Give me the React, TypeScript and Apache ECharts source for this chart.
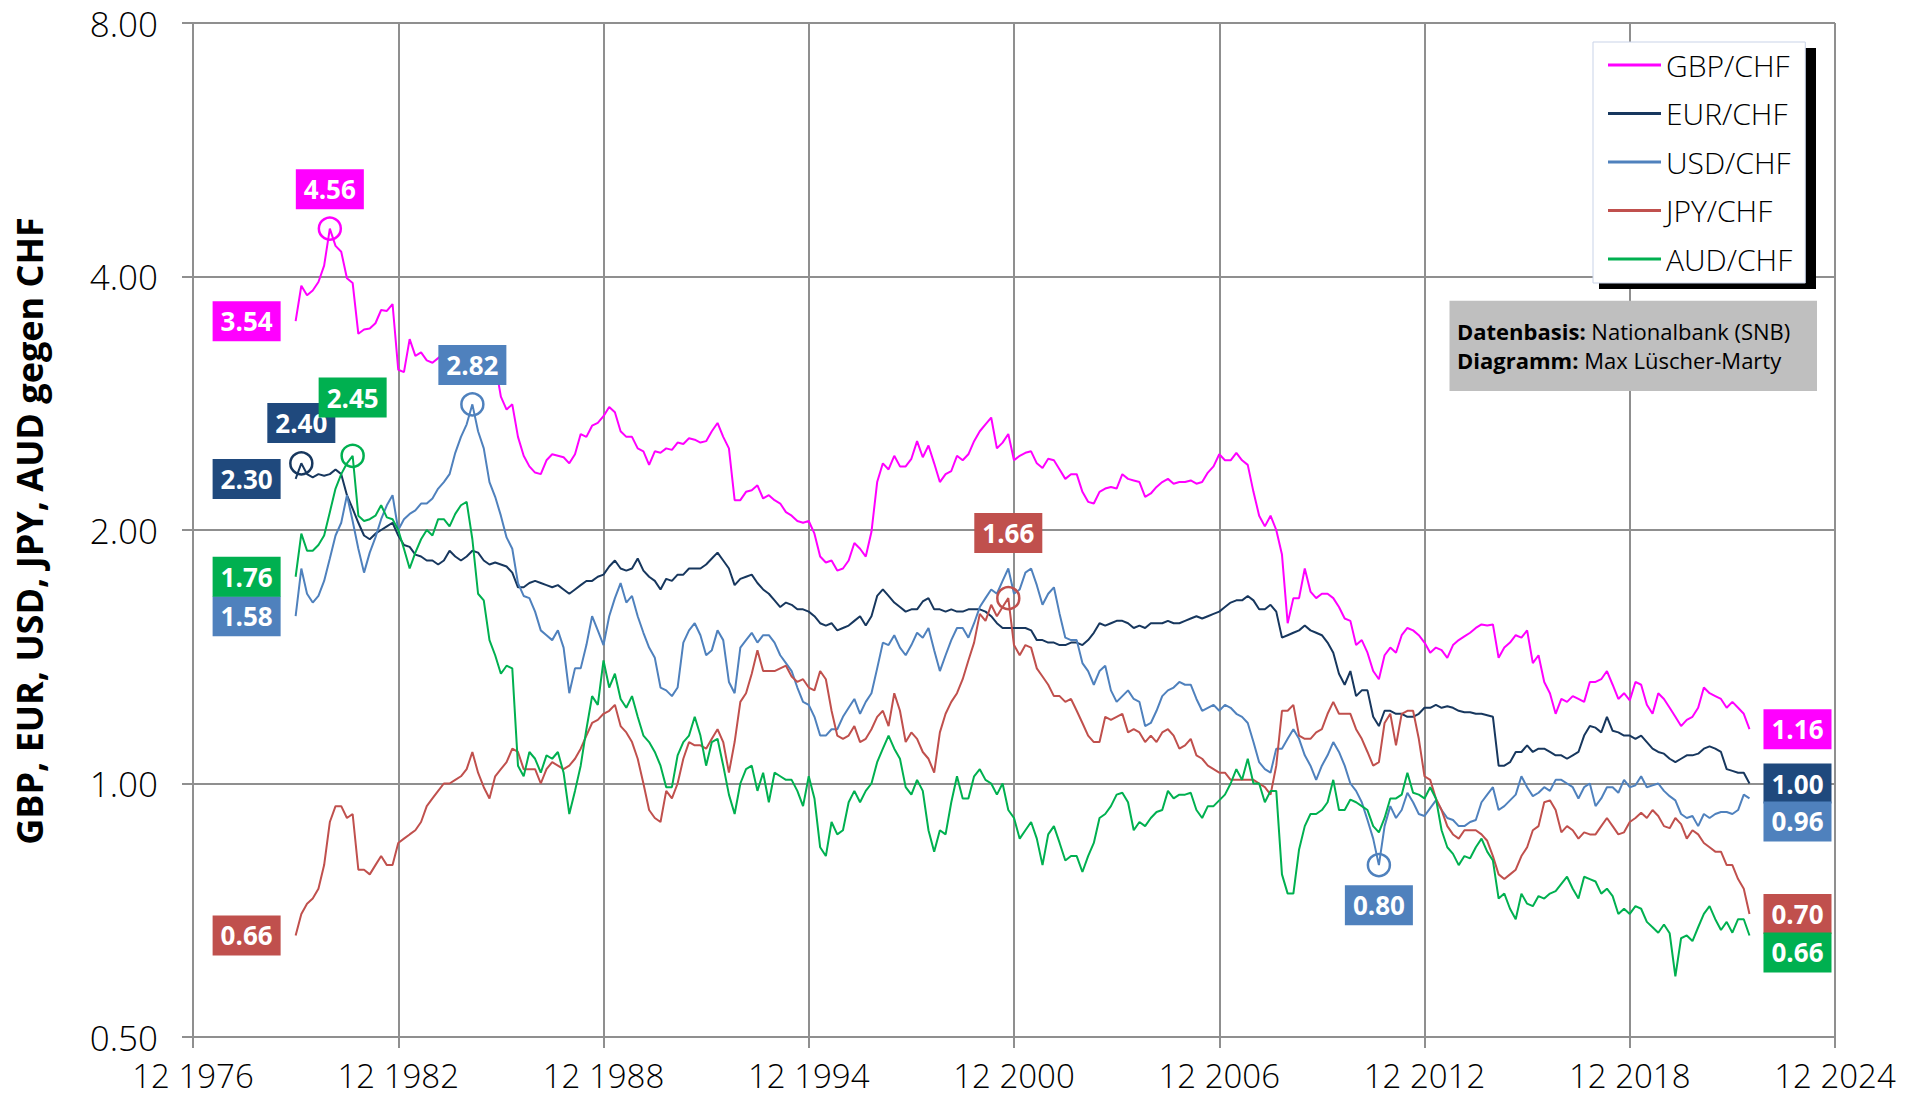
import React, { useEffect, useRef } from "react";
import * as echarts from "echarts";

// Monthly index counted from December 1976 (= 0); data every 2 months from Dec 1979 (36) to Jun 2022 (546)
const START_MONTH = 36;
const STEP_MONTHS = 2;
const BASE_YEAR = 1976;

const gbp = [
  3.54, 3.90, 3.80, 3.85, 3.94, 4.12, 4.56, 4.35, 4.28, 3.98, 3.93, 3.42, 3.46, 3.47, 3.52, 3.65, 3.64, 3.71, 3.10, 3.08, 3.37, 3.22, 3.25, 3.18, 3.16, 3.20, 3.25, 3.27, 3.24, 3.30, 3.30, 3.18, 3.30, 3.28, 3.22, 3.15, 2.88, 2.78, 2.82, 2.58, 2.45, 2.38,
  2.34, 2.33, 2.42, 2.46, 2.45, 2.44, 2.40, 2.46, 2.60, 2.58, 2.66, 2.68, 2.73, 2.80, 2.76, 2.62, 2.58, 2.58, 2.50, 2.48, 2.39, 2.48, 2.47, 2.50, 2.49, 2.54, 2.53, 2.57, 2.56, 2.54, 2.55, 2.62, 2.68, 2.58, 2.50, 2.17, 2.17, 2.22, 2.23, 2.26, 2.18, 2.20, 2.17,
  2.15, 2.10, 2.08, 2.05, 2.04, 2.05, 1.98, 1.86, 1.83, 1.84, 1.79, 1.80, 1.84, 1.93, 1.90, 1.86, 1.99, 2.28, 2.40, 2.36, 2.45, 2.38, 2.38, 2.43, 2.55, 2.44, 2.52, 2.40, 2.28, 2.33, 2.35, 2.45, 2.42, 2.46, 2.55, 2.62, 2.67, 2.72, 2.50, 2.54, 2.60, 2.42, 2.45,
  2.47, 2.48, 2.40, 2.37, 2.43, 2.42, 2.36, 2.30, 2.33, 2.33, 2.22, 2.16, 2.15, 2.22, 2.24, 2.25, 2.24, 2.33, 2.30, 2.29, 2.28, 2.19, 2.21, 2.25, 2.28, 2.30, 2.27, 2.28, 2.28, 2.29, 2.27, 2.28, 2.34, 2.38, 2.46, 2.42, 2.42, 2.47, 2.42, 2.39, 2.22, 2.08, 2.02,
  2.08, 2.00, 1.87, 1.55, 1.66, 1.66, 1.80, 1.69, 1.66, 1.68, 1.68, 1.66, 1.62, 1.57, 1.56, 1.46, 1.48, 1.43, 1.36, 1.33, 1.42, 1.45, 1.43, 1.50, 1.53, 1.52, 1.50, 1.47, 1.43, 1.45, 1.44, 1.41, 1.46, 1.48, 1.495, 1.51, 1.53, 1.545, 1.54, 1.545, 1.41, 1.45, 1.47,
  1.50, 1.49, 1.52, 1.39, 1.42, 1.32, 1.28, 1.21, 1.26, 1.25, 1.27, 1.26, 1.25, 1.32, 1.32, 1.33, 1.36, 1.31, 1.26, 1.28, 1.255, 1.32, 1.31, 1.24, 1.21, 1.28, 1.26, 1.23, 1.20, 1.17, 1.19, 1.20, 1.23, 1.30, 1.28, 1.27, 1.26, 1.23, 1.25, 1.23, 1.21, 1.16,
];

const eur = [
  2.30, 2.40, 2.33, 2.31, 2.33, 2.32, 2.33, 2.36, 2.33, 2.20, 2.12, 2.04, 1.97, 1.95, 1.98, 2.00, 2.02, 2.04, 1.97, 1.92, 1.91, 1.87, 1.86, 1.84, 1.84, 1.82, 1.84, 1.89, 1.86, 1.84, 1.86, 1.89, 1.88, 1.84, 1.82, 1.83, 1.82, 1.81, 1.78, 1.71, 1.71, 1.73,
  1.74, 1.73, 1.72, 1.71, 1.72, 1.70, 1.68, 1.70, 1.72, 1.74, 1.74, 1.76, 1.77, 1.81, 1.84, 1.80, 1.79, 1.80, 1.85, 1.79, 1.76, 1.74, 1.70, 1.75, 1.74, 1.77, 1.77, 1.80, 1.80, 1.80, 1.82, 1.85, 1.88, 1.84, 1.80, 1.72, 1.75, 1.76, 1.77, 1.73, 1.70, 1.68, 1.65,
  1.62, 1.64, 1.63, 1.61, 1.61, 1.60, 1.58, 1.55, 1.54, 1.55, 1.52, 1.53, 1.54, 1.56, 1.58, 1.54, 1.58, 1.67, 1.70, 1.67, 1.64, 1.62, 1.60, 1.61, 1.61, 1.645, 1.66, 1.61, 1.61, 1.60, 1.61, 1.60, 1.60, 1.61, 1.61, 1.61, 1.60, 1.58, 1.55, 1.53, 1.53, 1.53, 1.53,
  1.53, 1.52, 1.48, 1.48, 1.47, 1.47, 1.46, 1.46, 1.47, 1.47, 1.46, 1.48, 1.51, 1.55, 1.54, 1.55, 1.56, 1.56, 1.55, 1.53, 1.54, 1.53, 1.55, 1.55, 1.55, 1.56, 1.55, 1.55, 1.56, 1.57, 1.58, 1.57, 1.58, 1.59, 1.60, 1.62, 1.64, 1.65, 1.65, 1.67, 1.65, 1.61, 1.61,
  1.63, 1.60, 1.49, 1.50, 1.51, 1.52, 1.54, 1.52, 1.51, 1.50, 1.47, 1.43, 1.35, 1.31, 1.36, 1.27, 1.29, 1.29, 1.20, 1.17, 1.22, 1.22, 1.21, 1.21, 1.20, 1.20, 1.21, 1.23, 1.23, 1.24, 1.23, 1.235, 1.23, 1.22, 1.215, 1.215, 1.21, 1.21, 1.205, 1.20, 1.05, 1.05, 1.06,
  1.09, 1.09, 1.11, 1.09, 1.10, 1.10, 1.09, 1.08, 1.08, 1.07, 1.08, 1.09, 1.14, 1.17, 1.165, 1.15, 1.20, 1.155, 1.15, 1.14, 1.14, 1.13, 1.14, 1.12, 1.10, 1.09, 1.085, 1.07, 1.06, 1.07, 1.08, 1.08, 1.085, 1.10, 1.107, 1.10, 1.09, 1.04, 1.035, 1.03, 1.03, 1.00,
];

const usd = [
  1.58, 1.80, 1.68, 1.64, 1.67, 1.74, 1.85, 1.97, 2.04, 2.20, 2.05, 1.90, 1.78, 1.88, 1.96, 2.06, 2.14, 2.20, 2.00, 2.06, 2.09, 2.11, 2.15, 2.15, 2.18, 2.24, 2.28, 2.33, 2.47, 2.58, 2.67, 2.82, 2.62, 2.50, 2.28, 2.19, 2.08, 1.96, 1.90, 1.73, 1.67, 1.66,
  1.60, 1.52, 1.50, 1.48, 1.52, 1.45, 1.28, 1.37, 1.37, 1.46, 1.58, 1.52, 1.46, 1.58, 1.66, 1.73, 1.64, 1.67, 1.58, 1.51, 1.45, 1.41, 1.30, 1.29, 1.27, 1.30, 1.47, 1.52, 1.55, 1.50, 1.42, 1.44, 1.52, 1.48, 1.32, 1.28, 1.45, 1.48, 1.51, 1.47, 1.50, 1.50, 1.47,
  1.42, 1.39, 1.36, 1.30, 1.25, 1.24, 1.20, 1.14, 1.14, 1.16, 1.16, 1.20, 1.23, 1.26, 1.21, 1.25, 1.28, 1.37, 1.47, 1.46, 1.50, 1.45, 1.42, 1.46, 1.51, 1.49, 1.53, 1.44, 1.36, 1.42, 1.48, 1.53, 1.53, 1.49, 1.55, 1.62, 1.66, 1.70, 1.68, 1.74, 1.80, 1.68, 1.70,
  1.78, 1.80, 1.72, 1.63, 1.68, 1.71, 1.59, 1.49, 1.48, 1.48, 1.39, 1.36, 1.31, 1.36, 1.38, 1.29, 1.25, 1.27, 1.29, 1.26, 1.25, 1.17, 1.18, 1.22, 1.27, 1.29, 1.30, 1.32, 1.31, 1.31, 1.26, 1.22, 1.23, 1.24, 1.22, 1.24, 1.23, 1.21, 1.20, 1.18, 1.12, 1.06, 1.04,
  1.03, 1.10, 1.10, 1.13, 1.16, 1.13, 1.08, 1.05, 1.01, 1.05, 1.08, 1.12, 1.09, 1.05, 1.00, 0.98, 0.95, 0.905, 0.86, 0.80, 0.89, 0.94, 0.91, 0.93, 0.975, 0.95, 0.92, 0.915, 0.935, 0.955, 0.93, 0.91, 0.905, 0.89, 0.89, 0.90, 0.905, 0.95, 0.97, 0.99, 0.93, 0.94, 0.955,
  0.97, 1.02, 0.99, 0.966, 0.975, 0.99, 0.98, 1.01, 1.01, 1.00, 0.99, 0.96, 0.99, 1.00, 0.94, 0.96, 0.99, 0.99, 0.975, 1.01, 0.99, 0.995, 1.02, 0.99, 0.995, 1.00, 0.98, 0.966, 0.955, 0.92, 0.91, 0.915, 0.89, 0.92, 0.91, 0.92, 0.925, 0.925, 0.92, 0.93, 0.97, 0.96,
];

const jpy = [
  0.66, 0.70, 0.72, 0.73, 0.75, 0.80, 0.90, 0.94, 0.94, 0.91, 0.92, 0.79, 0.79, 0.78, 0.80, 0.82, 0.80, 0.80, 0.85, 0.86, 0.87, 0.88, 0.90, 0.94, 0.96, 0.98, 1.00, 1.00, 1.01, 1.02, 1.04, 1.09, 1.03, 0.99, 0.96, 1.02, 1.04, 1.06, 1.10, 1.09, 1.04, 1.04,
  1.04, 1.00, 1.04, 1.06, 1.05, 1.04, 1.05, 1.07, 1.10, 1.14, 1.18, 1.19, 1.21, 1.22, 1.24, 1.17, 1.15, 1.12, 1.07, 1.00, 0.93, 0.91, 0.90, 0.98, 0.96, 1.00, 1.07, 1.12, 1.11, 1.11, 1.10, 1.13, 1.16, 1.12, 1.03, 1.12, 1.25, 1.28, 1.35, 1.44, 1.36, 1.36, 1.36,
  1.37, 1.38, 1.34, 1.32, 1.33, 1.30, 1.29, 1.36, 1.33, 1.22, 1.14, 1.13, 1.14, 1.17, 1.12, 1.13, 1.16, 1.20, 1.22, 1.17, 1.28, 1.22, 1.12, 1.15, 1.13, 1.09, 1.07, 1.03, 1.15, 1.21, 1.25, 1.28, 1.33, 1.40, 1.47, 1.59, 1.56, 1.63, 1.58, 1.62, 1.66, 1.46, 1.42,
  1.46, 1.45, 1.37, 1.34, 1.31, 1.27, 1.27, 1.25, 1.26, 1.22, 1.18, 1.14, 1.12, 1.12, 1.20, 1.19, 1.20, 1.21, 1.15, 1.16, 1.15, 1.12, 1.14, 1.12, 1.15, 1.16, 1.14, 1.10, 1.11, 1.13, 1.08, 1.07, 1.05, 1.04, 1.03, 1.03, 1.01, 1.01, 1.01, 1.01, 1.01, 1.00, 0.99,
  0.97, 1.05, 1.22, 1.22, 1.24, 1.14, 1.13, 1.13, 1.15, 1.16, 1.21, 1.25, 1.21, 1.21, 1.21, 1.16, 1.13, 1.09, 1.05, 1.06, 1.18, 1.21, 1.11, 1.21, 1.22, 1.22, 1.13, 1.02, 1.01, 0.96, 0.93, 0.89, 0.87, 0.86, 0.88, 0.88, 0.88, 0.87, 0.855, 0.82, 0.78, 0.77, 0.78,
  0.79, 0.82, 0.84, 0.88, 0.89, 0.95, 0.955, 0.93, 0.875, 0.89, 0.88, 0.86, 0.875, 0.87, 0.87, 0.89, 0.91, 0.89, 0.87, 0.875, 0.90, 0.91, 0.923, 0.91, 0.93, 0.915, 0.89, 0.885, 0.91, 0.895, 0.86, 0.88, 0.87, 0.85, 0.84, 0.83, 0.83, 0.80, 0.80, 0.77, 0.75, 0.70,
];

const aud = [
  1.76, 1.98, 1.89, 1.89, 1.92, 1.97, 2.10, 2.24, 2.33, 2.40, 2.45, 2.08, 2.05, 2.06, 2.08, 2.14, 2.07, 2.06, 2.00, 1.90, 1.80, 1.88, 1.95, 2.00, 1.97, 2.06, 2.06, 2.02, 2.09, 2.14, 2.16, 1.95, 1.68, 1.65, 1.48, 1.42, 1.35, 1.38, 1.37, 1.05, 1.02, 1.09,
  1.07, 1.03, 1.08, 1.07, 1.09, 1.03, 0.92, 0.98, 1.05, 1.16, 1.27, 1.24, 1.40, 1.30, 1.35, 1.26, 1.23, 1.27, 1.20, 1.14, 1.12, 1.09, 1.05, 0.99, 0.99, 1.08, 1.12, 1.14, 1.20, 1.14, 1.05, 1.12, 1.13, 1.05, 0.97, 0.92, 1.00, 1.04, 1.05, 0.98, 1.03, 0.95, 1.03,
  1.02, 1.01, 1.01, 0.98, 0.94, 1.02, 0.96, 0.84, 0.82, 0.90, 0.87, 0.88, 0.95, 0.98, 0.95, 0.98, 1.00, 1.06, 1.10, 1.14, 1.10, 1.07, 0.99, 0.97, 1.01, 0.98, 0.88, 0.83, 0.88, 0.87, 0.95, 1.02, 0.96, 0.96, 1.02, 1.04, 1.01, 1.00, 0.97, 1.00, 0.93, 0.91, 0.86,
  0.88, 0.90, 0.86, 0.80, 0.87, 0.89, 0.85, 0.81, 0.82, 0.82, 0.785, 0.82, 0.85, 0.91, 0.92, 0.94, 0.97, 0.975, 0.95, 0.88, 0.90, 0.89, 0.91, 0.925, 0.93, 0.98, 0.96, 0.97, 0.97, 0.975, 0.93, 0.91, 0.94, 0.94, 0.955, 0.97, 1.00, 1.04, 1.01, 1.07, 1.00, 1.00, 0.95,
  0.98, 0.98, 0.78, 0.74, 0.74, 0.835, 0.89, 0.92, 0.92, 0.93, 0.95, 1.01, 0.93, 0.93, 0.957, 0.95, 0.94, 0.93, 0.89, 0.875, 0.91, 0.96, 0.96, 0.97, 1.03, 0.975, 0.97, 0.96, 0.99, 0.96, 0.88, 0.84, 0.825, 0.80, 0.82, 0.815, 0.84, 0.86, 0.83, 0.81, 0.73, 0.74, 0.71,
  0.69, 0.74, 0.72, 0.715, 0.735, 0.73, 0.74, 0.745, 0.76, 0.775, 0.75, 0.73, 0.775, 0.77, 0.765, 0.74, 0.75, 0.735, 0.70, 0.71, 0.70, 0.715, 0.71, 0.685, 0.675, 0.665, 0.68, 0.664, 0.59, 0.655, 0.66, 0.65, 0.675, 0.70, 0.715, 0.69, 0.67, 0.685, 0.665, 0.69, 0.69, 0.66,
];

const seriesNames = ["GBP/CHF", "EUR/CHF", "USD/CHF", "JPY/CHF", "AUD/CHF"];
const seriesValues = [gbp, eur, usd, jpy, aud];
const lineColors = ["#FF00FF", "#17375E", "#4F81BD", "#C0504D", "#00B050"];
const boxColors = ["#FF00FF", "#1F497D", "#4F81BD", "#C0504D", "#00B050"];
const yAxisTitle = "GBP, EUR, USD, JPY, AUD gegen CHF";
const sourceText = "{b|Datenbasis:} Nationalbank (SNB)\n{b|Diagramm:} Max Lüscher-Marty";

// extreme-value annotations per series: [type, label position, gap]
const extremes: [string, string, number][][] = [
  [["max", "top", 7]],
  [["max", "top", 8]],
  [["max", "top", 7], ["min", "bottom", 8]],
  [["max", "top", 33]],
  [["max", "top", 26]],
];
// vertical shift of end-value boxes so that they do not overlap
const endShift = [0, 0, 23, 0, 17];

const FONT = "'Open Sans', 'Noto Sans', 'DejaVu Sans', sans-serif";
const GRID = "#8f8f8f";

function boxLabel(color: string, position: string, distance: number, dy = 0) {
  return {
    show: true,
    position,
    distance,
    offset: [0, dy],
    formatter: (p: any) => Number(Array.isArray(p.value) ? p.value[1] : p.value).toFixed(2),
    color: "#fff",
    fontFamily: FONT,
    fontWeight: "bold",
    fontSize: 26,
    lineHeight: 30,
    backgroundColor: color,
    padding: [5, 8, 5, 8],
  };
}

export default function App() {
  const ref = useRef<HTMLDivElement>(null);

  useEffect(() => {
    if (!ref.current) return;
    const chart = echarts.init(ref.current, undefined, { renderer: "svg" });

    const series = seriesValues.map((vals, si) => {
      const data = vals.map((v, i) => [START_MONTH + i * STEP_MONTHS, v]);
      const first = data[0];
      const last = data[data.length - 1];
      const mp: any[] = extremes[si].map(([type, pos, gap]) => ({
        type,
        symbol: "circle",
        symbolSize: 22,
        itemStyle: { color: "rgba(255,255,255,0)", borderColor: lineColors[si], borderWidth: 2.5 },
        label: boxLabel(boxColors[si], pos, gap),
      }));
      mp.push({
        coord: first,
        value: first[1],
        symbolSize: 0,
        itemStyle: { color: "rgba(0,0,0,0)" },
        label: boxLabel(boxColors[si], "left", 15),
      });
      mp.push({
        coord: last,
        value: last[1],
        symbolSize: 0,
        itemStyle: { color: "rgba(0,0,0,0)" },
        label: boxLabel(boxColors[si], "right", 14, endShift[si]),
      });
      return {
        name: seriesNames[si],
        type: "line",
        data,
        showSymbol: false,
        symbol: "none",
        color: lineColors[si],
        lineStyle: { width: 2, color: lineColors[si] },
        z: 2 + si,
        markPoint: { data: mp, animation: false, silent: true },
      };
    });

    chart.setOption({
      animation: false,
      backgroundColor: "#ffffff",
      grid: { left: 193, right: 90, top: 23, bottom: 62, containLabel: false },
      xAxis: {
        type: "value",
        min: 0,
        max: 576,
        interval: 72,
        axisLine: { lineStyle: { color: GRID, width: 2 } },
        axisTick: { show: true, length: 11, lineStyle: { color: GRID, width: 2 } },
        splitLine: { show: true, lineStyle: { color: GRID, width: 2 } },
        axisLabel: {
          formatter: (v: number) => `12 ${BASE_YEAR + v / 12}`,
          fontSize: 33,
          lineHeight: 33,
          fontFamily: FONT,
          fontWeight: 300,
          color: "#000",
          margin: 22,
          showMinLabel: true,
          showMaxLabel: true,
        },
      },
      yAxis: {
        type: "log",
        logBase: 2,
        min: 0.5,
        max: 8,
        axisLine: { show: true, lineStyle: { color: GRID, width: 2 } },
        axisTick: { show: true, length: 11, lineStyle: { color: GRID, width: 2 } },
        splitLine: { show: true, lineStyle: { color: GRID, width: 2 } },
        minorTick: { show: false },
        axisLabel: {
          formatter: (v: number) => Number(v).toFixed(2),
          fontSize: 35,
          fontFamily: FONT,
          fontWeight: 300,
          color: "#000",
          margin: 35,
        },
      },
      legend: {
        orient: "vertical",
        left: 1593,
        top: 42,
        data: seriesNames,
        icon: "rect",
        itemWidth: 53,
        itemHeight: 3,
        itemGap: 16.5,
        padding: [7, 13, 8, 15],
        backgroundColor: "#ffffff",
        borderColor: "#c9d3e8",
        borderWidth: 1,
        selectedMode: false,
        z: 10,
        textStyle: { fontSize: 30, lineHeight: 32, color: "#000", fontFamily: FONT, fontWeight: 300 },
      },
      graphic: [
        {
          type: "rect",
          z: 9,
          shape: { x: 1599, y: 48, width: 217, height: 241 },
          style: { fill: "#000" },
        },
        {
          type: "rect",
          z: 9,
          shape: { x: 1449.5, y: 300.7, width: 367.5, height: 90.3 },
          style: { fill: "#bfbfbf" },
        },
        {
          type: "text",
          z: 10,
          x: 1457,
          y: 316,
          style: {
            text: sourceText,
            fontSize: 22,
            lineHeight: 29,
            fontFamily: FONT,
            fill: "#000",
            rich: {
              b: { fontSize: 22, lineHeight: 29, fontFamily: FONT, fontWeight: "bold", fill: "#000" },
            },
          },
        },
        {
          type: "text",
          z: 10,
          x: 29,
          y: 531,
          rotation: Math.PI / 2,
          style: {
            text: yAxisTitle,
            fontSize: 36,
            fontWeight: "bold",
            fontFamily: FONT,
            fill: "#000",
            textAlign: "center",
            textVerticalAlign: "middle",
            align: "center",
            verticalAlign: "middle",
          },
        },
      ],
      series,
    });

    return () => chart.dispose();
  }, []);

  return (
    <div
      ref={ref}
      style={{ position: "fixed", left: 0, top: 0, width: 1925, height: 1099, background: "#fff" }}
    />
  );
}
